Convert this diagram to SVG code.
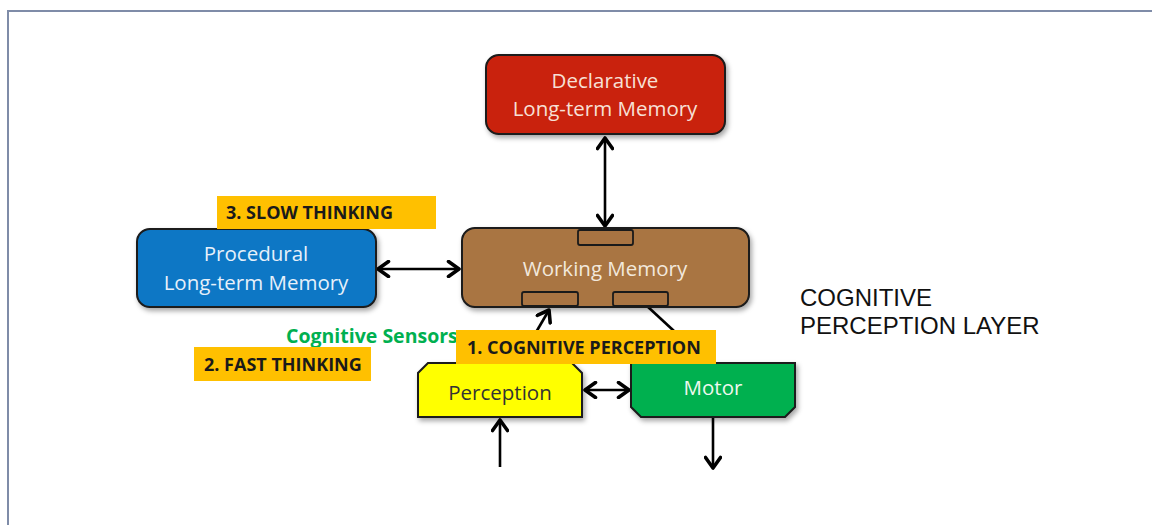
<svg xmlns="http://www.w3.org/2000/svg" width="1152" height="525" viewBox="0 0 1152 525">
<defs>
<filter id="sh" x="-10%" y="-10%" width="130%" height="140%">
<feDropShadow dx="2" dy="3" stdDeviation="2.5" flood-color="#000" flood-opacity="0.35"/>
</filter>
<marker id="ah" viewBox="0 0 18 18" refX="15.5" refY="9" markerWidth="18" markerHeight="18" markerUnits="userSpaceOnUse" orient="auto-start-reverse">
<path d="M5,1.5 L15.5,9 L5,16.5" fill="none" stroke="#000" stroke-width="3.6" stroke-linecap="round" stroke-linejoin="round"/>
</marker>
<style>
.box{stroke:#1a1a1a;stroke-width:2}
.lbl{font-family:"Open Sans","Noto Sans",sans-serif;font-size:20.5px;text-anchor:middle}
.tag{fill:#ffc000}
.tagt{font-family:"Open Sans","Noto Sans",sans-serif;font-size:18px;font-weight:bold;fill:#1a1a1a}
.conn{stroke:#000;stroke-width:2.6;fill:none}
.port{fill:#a97442;stroke:#1a1a1a;stroke-width:1.8}
</style>
</defs>
<rect width="1152" height="525" fill="#ffffff"/>
<rect x="8" y="11" width="1160" height="530" fill="none" stroke="#7f8ca8" stroke-width="2"/>

<g id="connectors">
<line class="conn" x1="605" y1="138" x2="605" y2="226" marker-start="url(#ah)" marker-end="url(#ah)"/>
<line class="conn" x1="378" y1="269" x2="459" y2="269" marker-start="url(#ah)" marker-end="url(#ah)"/>
<line class="conn" x1="535" y1="334" x2="549" y2="310" marker-end="url(#ah)"/>
<line class="conn" x1="647" y1="306" x2="674" y2="331"/>
<line class="conn" x1="585" y1="390" x2="629" y2="390" marker-start="url(#ah)" marker-end="url(#ah)"/>
<line class="conn" x1="500" y1="467" x2="500" y2="420" marker-end="url(#ah)"/>
<line class="conn" x1="713" y1="418" x2="713" y2="468" marker-end="url(#ah)"/>
</g>

<g id="declarative">
<rect class="box" x="486" y="55" width="239" height="79" rx="13" fill="#c9210a" filter="url(#sh)"/>
<text class="lbl" x="605" y="88" fill="#f7e0d6">Declarative</text>
<text class="lbl" x="605" y="116" fill="#f7e0d6">Long-term Memory</text>
</g>

<g id="working-memory">
<rect class="box" x="462" y="228" width="287" height="79" rx="13" fill="#a97442" filter="url(#sh)"/>
<rect class="port" x="578" y="230" width="55" height="15" rx="2"/>
<rect class="port" x="522" y="292" width="56" height="14" rx="2"/>
<rect class="port" x="613" y="292" width="55" height="14" rx="2"/>
<text class="lbl" x="605" y="276" fill="#f2e8dc">Working Memory</text>
</g>

<g id="procedural">
<rect class="box" x="137" y="229" width="239" height="78" rx="13" fill="#0b77c5" filter="url(#sh)"/>
<text class="lbl" x="256" y="261" fill="#e6f0fa">Procedural</text>
<text class="lbl" x="256" y="290" fill="#e6f0fa">Long-term Memory</text>
</g>

<g id="slow-thinking">
<rect class="tag" x="217" y="196" width="219" height="33"/>
<text class="tagt" x="226" y="219">3. SLOW THINKING</text>
</g>

<g id="layer-title">
<text x="800" y="306" font-family="Liberation Sans, Arial, sans-serif" font-size="24" fill="#111">COGNITIVE</text>
<text x="800" y="334" font-family="Liberation Sans, Arial, sans-serif" font-size="24" fill="#111">PERCEPTION LAYER</text>
</g>

<g id="sensors">
<text x="286" y="343" font-family="Open Sans, Noto Sans, sans-serif" font-size="19.5" font-weight="bold" fill="#00b050">Cognitive Sensors</text>
</g>

<g id="fast-thinking">
<rect class="tag" x="194" y="347" width="177" height="34"/>
<text class="tagt" x="204" y="371">2. FAST THINKING</text>
</g>

<g id="perception">
<path class="box" d="M428,363 L572,363 L582,373 L582,417 L418,417 L418,373 Z" fill="#ffff00" filter="url(#sh)"/>
<text class="lbl" x="500" y="400" fill="#333">Perception</text>
</g>

<g id="motor">
<path class="box" d="M631,363 L795,363 L795,407 L785,417 L641,417 L631,407 Z" fill="#00b050" filter="url(#sh)"/>
<text class="lbl" x="713" y="395" fill="#eef8ee">Motor</text>
</g>

<g id="cognitive-perception">
<rect class="tag" x="456" y="330" width="260" height="34"/>
<text class="tagt" x="467" y="354">1. COGNITIVE PERCEPTION</text>
</g>
</svg>
